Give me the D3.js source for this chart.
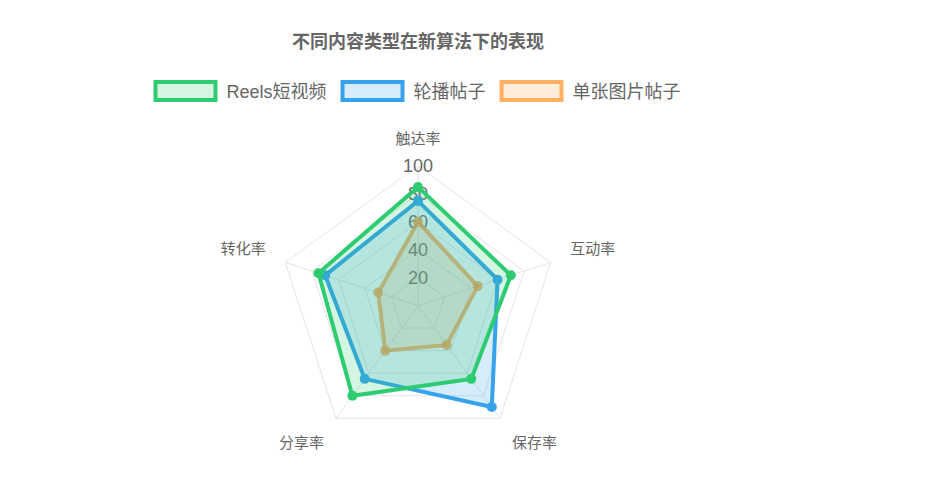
<!DOCTYPE html>
<html>
<head>
<meta charset="utf-8">
<script src="https://cdn.jsdelivr.net/npm/d3@7"></script>
<style>
  html, body { margin: 0; padding: 0; background: #fff; }
  svg { display: block; font-family: "Liberation Sans", Arial, "Noto Sans CJK SC", sans-serif; }
</style>
</head>
<body>
<svg id="chart" width="946" height="489"></svg>
<script>
// axes, clockwise from the top
const axisLabels = ['触达率', '互动率', '保存率', '分享率', '转化率'];
const seriesNames = ['Reels短视频', '轮播帖子', '单张图片帖子'];
const reelsValues = [85, 70, 65, 80, 75];
const carouselValues = [75, 60, 90, 65, 70];
const singleValues = [60, 45, 35, 40, 30];
const tickValues = [20, 40, 60, 80, 100];

const colors = [
  { line: 'rgb(46,204,113)', fill: 'rgba(46,204,113,0.2)' },
  { line: 'rgb(54,162,235)', fill: 'rgba(54,162,235,0.2)' },
  { line: 'rgba(255,159,64,0.8)', fill: 'rgba(255,159,64,0.2)' }
];

const series = seriesNames.map((name, i) => ({
  name: name,
  values: [reelsValues, carouselValues, singleValues][i],
  color: colors[i]
}));

const width = 946, height = 489;
const cx = 418, cy = 305.5, radius = 139.5;
const textColor = '#666';

const svg = d3.select('#chart');

const r = d3.scaleLinear().domain([0, 100]).range([0, radius]);
const angle = d3.scaleLinear().domain([0, axisLabels.length]).range([0, 2 * Math.PI]);

// x/y for axis index i at distance d (angle measured clockwise from top)
const px = (i, d) => cx + Math.sin(angle(i)) * d;
const py = (i, d) => cy - Math.cos(angle(i)) * d;

// title
svg.append('text')
  .attr('x', cx)
  .attr('y', 48)
  .attr('text-anchor', 'middle')
  .style('font-size', '18px')
  .style('font-weight', 'bold')
  .style('fill', textColor)
  .text('不同内容类型在新算法下的表现');

// legend
const legend = svg.append('g');
const items = legend.selectAll('g')
  .data(series)
  .join('g');

items.append('text')
  .attr('class', 'lt')
  .attr('y', 92)
  .attr('dominant-baseline', 'central')
  .style('font-size', '18px')
  .style('fill', textColor)
  .text(d => d.name);

const boxW = 60, boxH = 18, textGap = 11, itemGap = 16;
const widths = [];
items.select('text').each(function () { widths.push(this.getComputedTextLength()); });
const total = d3.sum(widths) + series.length * (boxW + textGap) + (series.length - 1) * itemGap;
let x0 = cx - total / 2;
items.each(function (d, i) {
  const g = d3.select(this);
  g.insert('rect', 'text')
    .attr('x', x0)
    .attr('y', 92 - boxH / 2 - 1)
    .attr('width', boxW)
    .attr('height', boxH)
    .attr('fill', d.color.fill)
    .attr('stroke', d.color.line)
    .attr('stroke-width', 4);
  g.select('text').attr('x', x0 + boxW + textGap);
  x0 += boxW + textGap + widths[i] + itemGap;
});

// grid rings
const ring = d => d3.range(axisLabels.length).map(i => [px(i, r(d)), py(i, r(d))]);
svg.append('g')
  .selectAll('polygon')
  .data(tickValues)
  .join('polygon')
  .attr('points', d => ring(d).join(' '))
  .attr('fill', 'none')
  .attr('stroke', '#e4e4e4')
  .attr('stroke-width', 1);

// angle lines
svg.append('g')
  .selectAll('line')
  .data(axisLabels)
  .join('line')
  .attr('x1', cx)
  .attr('y1', cy)
  .attr('x2', (d, i) => px(i, r(100)))
  .attr('y2', (d, i) => py(i, r(100)))
  .attr('stroke', '#e4e4e4')
  .attr('stroke-width', 1);

// tick labels
svg.append('g')
  .selectAll('text')
  .data(tickValues)
  .join('text')
  .attr('x', cx)
  .attr('y', d => cy - r(d))
  .attr('text-anchor', 'middle')
  .attr('dominant-baseline', 'central')
  .style('font-size', '18px')
  .style('fill', textColor)
  .text(d => d);

// point labels
const labelDist = r(100) + 20.5;
svg.append('g')
  .selectAll('text')
  .data(axisLabels)
  .join('text')
  .attr('x', (d, i) => px(i, labelDist))
  .attr('y', (d, i) => {
    const deg = angle(i) * 180 / Math.PI;
    const above = deg < 90 || deg > 270;
    return py(i, labelDist) + (above ? -7.5 : 7.5);
  })
  .attr('text-anchor', (d, i) => {
    const deg = angle(i) * 180 / Math.PI;
    if (deg === 0 || deg === 180) return 'middle';
    return deg < 180 ? 'start' : 'end';
  })
  .attr('dominant-baseline', 'central')
  .style('font-size', '15px')
  .style('fill', textColor)
  .text(d => d);

// datasets, last one drawn first
const lineGen = d3.lineRadial()
  .angle((d, i) => angle(i))
  .radius(d => r(d))
  .curve(d3.curveLinearClosed);

const layers = svg.append('g')
  .attr('transform', `translate(${cx},${cy})`)
  .selectAll('g')
  .data(series.slice().reverse())
  .join('g');

layers.append('path')
  .attr('d', d => lineGen(d.values))
  .attr('fill', d => d.color.fill)
  .attr('stroke', d => d.color.line)
  .attr('stroke-width', 4)
  .attr('stroke-linejoin', 'miter');

layers.each(function (s) {
  d3.select(this).selectAll('circle')
    .data(s.values)
    .join('circle')
    .attr('cx', (d, i) => px(i, r(d)) - cx)
    .attr('cy', (d, i) => py(i, r(d)) - cy)
    .attr('r', 5)
    .attr('fill', s.color.line);
});
</script>
</body>
</html>
